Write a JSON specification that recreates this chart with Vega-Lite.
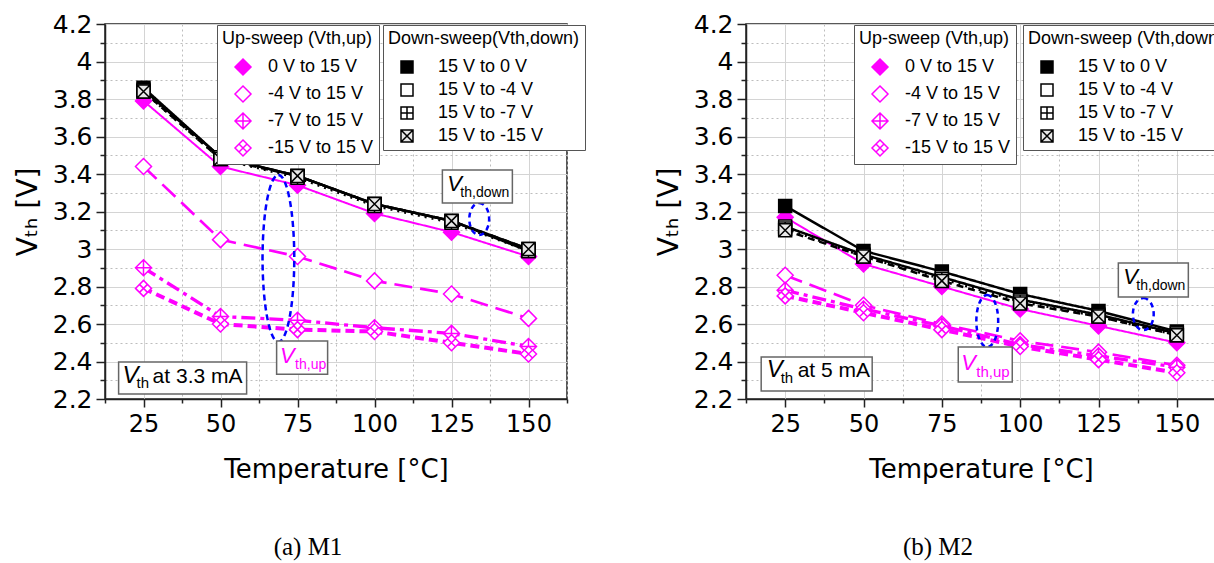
{
  "$schema": "https://vega.github.io/schema/vega-lite/v6.json",
  "background": "white",
  "padding": {"left": 13, "top": 11, "right": 0, "bottom": 0},
  "bounds": "flush",
  "spacing": 179,
  "config": {
    "view": {"stroke": "#222", "strokeWidth": 1.5},
    "font": "Liberation Sans",
    "axis": {
      "labelFont": "DejaVu Sans", "titleFont": "DejaVu Sans", "titleFontWeight": "normal",
      "labelColor": "black", "titleColor": "black",
      "domainColor": "#222", "domainWidth": 1.5, "tickColor": "#222", "tickWidth": 1.5
    },
    "axisX": {"labelFontSize": 24, "titleFontSize": 26, "labelPadding": 5, "titlePadding": 20},
    "axisY": {"labelFontSize": 25, "titleFontSize": 28, "labelPadding": 4, "titlePadding": 10},
    "legend": {
      "padding": 5, "strokeColor": "#555", "fillColor": "white", "cornerRadius": 0,
      "titleFont": "Liberation Sans", "titleFontSize": 18, "titleFontWeight": "normal", "titleColor": "black",
      "labelFont": "Liberation Sans", "labelFontSize": 18, "labelColor": "black",
      "rowPadding": 5, "titlePadding": 10, "symbolStrokeWidth": 1.5, "labelLimit": 400, "titleLimit": 400
    },
    "title": {"font": "Liberation Serif", "fontSize": 25, "fontWeight": "normal", "color": "black", "orient": "bottom", "offset": 53, "anchor": "middle"}
  },
  "datasets": {
    "vth": [
      {"p":"M1","s":"up","k":"0 V to 15 V","T":25,"V":3.79},{"p":"M1","s":"up","k":"0 V to 15 V","T":50,"V":3.44},{"p":"M1","s":"up","k":"0 V to 15 V","T":75,"V":3.34},{"p":"M1","s":"up","k":"0 V to 15 V","T":100,"V":3.19},{"p":"M1","s":"up","k":"0 V to 15 V","T":125,"V":3.09},{"p":"M1","s":"up","k":"0 V to 15 V","T":150,"V":2.96},
      {"p":"M1","s":"up","k":"-4 V to 15 V","T":25,"V":3.44},{"p":"M1","s":"up","k":"-4 V to 15 V","T":50,"V":3.05},{"p":"M1","s":"up","k":"-4 V to 15 V","T":75,"V":2.96},{"p":"M1","s":"up","k":"-4 V to 15 V","T":100,"V":2.83},{"p":"M1","s":"up","k":"-4 V to 15 V","T":125,"V":2.76},{"p":"M1","s":"up","k":"-4 V to 15 V","T":150,"V":2.63},
      {"p":"M1","s":"up","k":"-7 V to 15 V","T":25,"V":2.90},{"p":"M1","s":"up","k":"-7 V to 15 V","T":50,"V":2.64},{"p":"M1","s":"up","k":"-7 V to 15 V","T":75,"V":2.62},{"p":"M1","s":"up","k":"-7 V to 15 V","T":100,"V":2.58},{"p":"M1","s":"up","k":"-7 V to 15 V","T":125,"V":2.55},{"p":"M1","s":"up","k":"-7 V to 15 V","T":150,"V":2.48},
      {"p":"M1","s":"up","k":"-15 V to 15 V","T":25,"V":2.79},{"p":"M1","s":"up","k":"-15 V to 15 V","T":50,"V":2.60},{"p":"M1","s":"up","k":"-15 V to 15 V","T":75,"V":2.57},{"p":"M1","s":"up","k":"-15 V to 15 V","T":100,"V":2.56},{"p":"M1","s":"up","k":"-15 V to 15 V","T":125,"V":2.50},{"p":"M1","s":"up","k":"-15 V to 15 V","T":150,"V":2.44},
      {"p":"M1","s":"down","k":"15 V to 0 V","T":25,"V":3.86},{"p":"M1","s":"down","k":"15 V to 0 V","T":50,"V":3.49},{"p":"M1","s":"down","k":"15 V to 0 V","T":75,"V":3.39},{"p":"M1","s":"down","k":"15 V to 0 V","T":100,"V":3.24},{"p":"M1","s":"down","k":"15 V to 0 V","T":125,"V":3.15},{"p":"M1","s":"down","k":"15 V to 0 V","T":150,"V":3.00},
      {"p":"M1","s":"down","k":"15 V to -4 V","T":25,"V":3.85},{"p":"M1","s":"down","k":"15 V to -4 V","T":50,"V":3.49},{"p":"M1","s":"down","k":"15 V to -4 V","T":75,"V":3.39},{"p":"M1","s":"down","k":"15 V to -4 V","T":100,"V":3.24},{"p":"M1","s":"down","k":"15 V to -4 V","T":125,"V":3.15},{"p":"M1","s":"down","k":"15 V to -4 V","T":150,"V":2.99},
      {"p":"M1","s":"down","k":"15 V to -7 V","T":25,"V":3.84},{"p":"M1","s":"down","k":"15 V to -7 V","T":50,"V":3.48},{"p":"M1","s":"down","k":"15 V to -7 V","T":75,"V":3.38},{"p":"M1","s":"down","k":"15 V to -7 V","T":100,"V":3.23},{"p":"M1","s":"down","k":"15 V to -7 V","T":125,"V":3.14},{"p":"M1","s":"down","k":"15 V to -7 V","T":150,"V":2.99},
      {"p":"M1","s":"down","k":"15 V to -15 V","T":25,"V":3.84},{"p":"M1","s":"down","k":"15 V to -15 V","T":50,"V":3.48},{"p":"M1","s":"down","k":"15 V to -15 V","T":75,"V":3.39},{"p":"M1","s":"down","k":"15 V to -15 V","T":100,"V":3.24},{"p":"M1","s":"down","k":"15 V to -15 V","T":125,"V":3.15},{"p":"M1","s":"down","k":"15 V to -15 V","T":150,"V":3.00},
      {"p":"M2","s":"up","k":"0 V to 15 V","T":25,"V":3.17},{"p":"M2","s":"up","k":"0 V to 15 V","T":50,"V":2.92},{"p":"M2","s":"up","k":"0 V to 15 V","T":75,"V":2.80},{"p":"M2","s":"up","k":"0 V to 15 V","T":100,"V":2.68},{"p":"M2","s":"up","k":"0 V to 15 V","T":125,"V":2.59},{"p":"M2","s":"up","k":"0 V to 15 V","T":150,"V":2.50},
      {"p":"M2","s":"up","k":"-4 V to 15 V","T":25,"V":2.86},{"p":"M2","s":"up","k":"-4 V to 15 V","T":50,"V":2.70},{"p":"M2","s":"up","k":"-4 V to 15 V","T":75,"V":2.60},{"p":"M2","s":"up","k":"-4 V to 15 V","T":100,"V":2.51},{"p":"M2","s":"up","k":"-4 V to 15 V","T":125,"V":2.45},{"p":"M2","s":"up","k":"-4 V to 15 V","T":150,"V":2.38},
      {"p":"M2","s":"up","k":"-7 V to 15 V","T":25,"V":2.78},{"p":"M2","s":"up","k":"-7 V to 15 V","T":50,"V":2.68},{"p":"M2","s":"up","k":"-7 V to 15 V","T":75,"V":2.59},{"p":"M2","s":"up","k":"-7 V to 15 V","T":100,"V":2.49},{"p":"M2","s":"up","k":"-7 V to 15 V","T":125,"V":2.43},{"p":"M2","s":"up","k":"-7 V to 15 V","T":150,"V":2.37},
      {"p":"M2","s":"up","k":"-15 V to 15 V","T":25,"V":2.75},{"p":"M2","s":"up","k":"-15 V to 15 V","T":50,"V":2.66},{"p":"M2","s":"up","k":"-15 V to 15 V","T":75,"V":2.57},{"p":"M2","s":"up","k":"-15 V to 15 V","T":100,"V":2.48},{"p":"M2","s":"up","k":"-15 V to 15 V","T":125,"V":2.41},{"p":"M2","s":"up","k":"-15 V to 15 V","T":150,"V":2.34},
      {"p":"M2","s":"down","k":"15 V to 0 V","T":25,"V":3.23},{"p":"M2","s":"down","k":"15 V to 0 V","T":50,"V":2.99},{"p":"M2","s":"down","k":"15 V to 0 V","T":75,"V":2.88},{"p":"M2","s":"down","k":"15 V to 0 V","T":100,"V":2.76},{"p":"M2","s":"down","k":"15 V to 0 V","T":125,"V":2.67},{"p":"M2","s":"down","k":"15 V to 0 V","T":150,"V":2.56},
      {"p":"M2","s":"down","k":"15 V to -4 V","T":25,"V":3.12},{"p":"M2","s":"down","k":"15 V to -4 V","T":50,"V":2.97},{"p":"M2","s":"down","k":"15 V to -4 V","T":75,"V":2.85},{"p":"M2","s":"down","k":"15 V to -4 V","T":100,"V":2.73},{"p":"M2","s":"down","k":"15 V to -4 V","T":125,"V":2.65},{"p":"M2","s":"down","k":"15 V to -4 V","T":150,"V":2.55},
      {"p":"M2","s":"down","k":"15 V to -7 V","T":25,"V":3.11},{"p":"M2","s":"down","k":"15 V to -7 V","T":50,"V":2.96},{"p":"M2","s":"down","k":"15 V to -7 V","T":75,"V":2.84},{"p":"M2","s":"down","k":"15 V to -7 V","T":100,"V":2.72},{"p":"M2","s":"down","k":"15 V to -7 V","T":125,"V":2.64},{"p":"M2","s":"down","k":"15 V to -7 V","T":150,"V":2.54},
      {"p":"M2","s":"down","k":"15 V to -15 V","T":25,"V":3.10},{"p":"M2","s":"down","k":"15 V to -15 V","T":50,"V":2.96},{"p":"M2","s":"down","k":"15 V to -15 V","T":75,"V":2.83},{"p":"M2","s":"down","k":"15 V to -15 V","T":100,"V":2.71},{"p":"M2","s":"down","k":"15 V to -15 V","T":125,"V":2.64},{"p":"M2","s":"down","k":"15 V to -15 V","T":150,"V":2.54}
    ],
    "anchor": [{"a": 1}]
  },
  "hconcat": [
    {
      "width": 462, "height": 375,
      "title": {"text": "(a) M1", "orient": "bottom", "dx": -28},
      "layer": [
        {"data": {"name": "vth"}, "transform": [{"filter": "datum.p == 'M1' && datum.s == 'up'"}], "mark": {"type": "line", "stroke": "#ff00ff"},
          "encoding": {
            "x": {"field": "T", "type": "quantitative", "scale": {"domain": [12.5, 162.5], "nice": false, "zero": false}, "axis": {"title": "Temperature [°C]", "values": [12.5,25,37.5,50,62.5,75,87.5,100,112.5,125,137.5,150,162.5], "labelExpr": "datum.value % 25 == 0 ? datum.label : ''", "tickSize": {"condition": {"test": "datum.value % 25 == 0", "value": 8}, "value": 4}, "gridDash": {"condition": {"test": "datum.value % 25 == 0", "value": []}, "value": [2, 3]}, "gridColor": {"condition": {"test": "datum.value % 25 == 0", "value": "#d4d4d4"}, "value": "#bdbdbd"}}},
            "y": {"field": "V", "type": "quantitative", "scale": {"domain": [2.2, 4.2], "nice": false, "zero": false}, "axis": {"title": "Vₜₕ [V]", "values": [2.2,2.3,2.4,2.5,2.6,2.7,2.8,2.9,3.0,3.1,3.2,3.3,3.4,3.5,3.6,3.7,3.8,3.9,4.0,4.1,4.2], "labelExpr": "round(datum.value * 10) % 2 == 0 ? format(datum.value, '.1~f') : ''", "tickSize": {"condition": {"test": "round(datum.value * 10) % 2 == 0", "value": 9}, "value": 5}, "gridDash": {"condition": {"test": "round(datum.value * 10) % 2 == 0", "value": []}, "value": [2, 3]}, "gridColor": {"condition": {"test": "round(datum.value * 10) % 2 == 0", "value": "#d4d4d4"}, "value": "#bdbdbd"}}},
            "strokeDash": {"field": "k", "scale": {"domain": ["0 V to 15 V","-4 V to 15 V","-7 V to 15 V","-15 V to 15 V"], "range": [[1,0],[18,8],[14,5,4,5],[9,5]]}, "legend": null},
            "strokeWidth": {"field": "k", "scale": {"domain": ["0 V to 15 V","-4 V to 15 V","-7 V to 15 V","-15 V to 15 V"], "range": [2,4,4,4]}, "legend": null}}},
        {"data": {"name": "vth"}, "transform": [{"filter": "datum.p == 'M1' && datum.s == 'down'"}], "mark": {"type": "line", "stroke": "black"},
          "encoding": {
            "x": {"field": "T", "type": "quantitative", "scale": {"domain": [12.5, 162.5], "nice": false, "zero": false}, "axis": {"title": "Temperature [°C]", "values": [12.5,25,37.5,50,62.5,75,87.5,100,112.5,125,137.5,150,162.5], "labelExpr": "datum.value % 25 == 0 ? datum.label : ''", "tickSize": {"condition": {"test": "datum.value % 25 == 0", "value": 8}, "value": 4}, "gridDash": {"condition": {"test": "datum.value % 25 == 0", "value": []}, "value": [2, 3]}, "gridColor": {"condition": {"test": "datum.value % 25 == 0", "value": "#d4d4d4"}, "value": "#bdbdbd"}}},
            "y": {"field": "V", "type": "quantitative", "scale": {"domain": [2.2, 4.2], "nice": false, "zero": false}, "axis": {"title": "Vₜₕ [V]", "values": [2.2,2.3,2.4,2.5,2.6,2.7,2.8,2.9,3.0,3.1,3.2,3.3,3.4,3.5,3.6,3.7,3.8,3.9,4.0,4.1,4.2], "labelExpr": "round(datum.value * 10) % 2 == 0 ? format(datum.value, '.1~f') : ''", "tickSize": {"condition": {"test": "round(datum.value * 10) % 2 == 0", "value": 9}, "value": 5}, "gridDash": {"condition": {"test": "round(datum.value * 10) % 2 == 0", "value": []}, "value": [2, 3]}, "gridColor": {"condition": {"test": "round(datum.value * 10) % 2 == 0", "value": "#d4d4d4"}, "value": "#bdbdbd"}}},
            "strokeDash": {"field": "k", "scale": {"domain": ["15 V to 0 V","15 V to -4 V","15 V to -7 V","15 V to -15 V"], "range": [[1,0],[1,0],[2,5],[7,5]]}, "legend": null},
            "strokeWidth": {"field": "k", "scale": {"domain": ["15 V to 0 V","15 V to -4 V","15 V to -7 V","15 V to -15 V"], "range": [2.5,2.5,2.5,2.5]}, "legend": null}}},
        {"data": {"name": "vth"}, "transform": [{"filter": "datum.p == 'M1' && datum.s == 'up'"}], "mark": {"type": "point", "filled": true, "size": 256, "strokeWidth": 1.5, "opacity": 1},
          "encoding": {
            "x": {"field": "T", "type": "quantitative", "scale": {"domain": [12.5, 162.5], "nice": false, "zero": false}, "axis": {"title": "Temperature [°C]", "values": [12.5,25,37.5,50,62.5,75,87.5,100,112.5,125,137.5,150,162.5], "labelExpr": "datum.value % 25 == 0 ? datum.label : ''", "tickSize": {"condition": {"test": "datum.value % 25 == 0", "value": 8}, "value": 4}, "gridDash": {"condition": {"test": "datum.value % 25 == 0", "value": []}, "value": [2, 3]}, "gridColor": {"condition": {"test": "datum.value % 25 == 0", "value": "#d4d4d4"}, "value": "#bdbdbd"}}},
            "y": {"field": "V", "type": "quantitative", "scale": {"domain": [2.2, 4.2], "nice": false, "zero": false}, "axis": {"title": "Vₜₕ [V]", "values": [2.2,2.3,2.4,2.5,2.6,2.7,2.8,2.9,3.0,3.1,3.2,3.3,3.4,3.5,3.6,3.7,3.8,3.9,4.0,4.1,4.2], "labelExpr": "round(datum.value * 10) % 2 == 0 ? format(datum.value, '.1~f') : ''", "tickSize": {"condition": {"test": "round(datum.value * 10) % 2 == 0", "value": 9}, "value": 5}, "gridDash": {"condition": {"test": "round(datum.value * 10) % 2 == 0", "value": []}, "value": [2, 3]}, "gridColor": {"condition": {"test": "round(datum.value * 10) % 2 == 0", "value": "#d4d4d4"}, "value": "#bdbdbd"}}},
            "shape": {"field": "k", "title": "Up-sweep (Vth,up)", "scale": {"domain": ["0 V to 15 V","-4 V to 15 V","-7 V to 15 V","-15 V to 15 V"], "range": ["M0,-1L1,0L0,1L-1,0Z","M0,-1L1,0L0,1L-1,0Z","M0,-1L1,0L0,1L-1,0Z M0,-1L0,1 M-1,0L1,0","M0,-1L1,0L0,1L-1,0Z M-0.5,-0.5L0.5,0.5 M-0.5,0.5L0.5,-0.5"]},
              "legend": {"orient": "none", "legendX": 112, "legendY": 1, "symbolSize": 256, "symbolOffset": 12, "labelOffset": 16}},
            "fill": {"field": "k", "title": "Up-sweep (Vth,up)", "scale": {"domain": ["0 V to 15 V","-4 V to 15 V","-7 V to 15 V","-15 V to 15 V"], "range": ["#ff00ff","white","white","white"]},
              "legend": {"orient": "none", "legendX": 112, "legendY": 1, "symbolSize": 256, "symbolOffset": 12, "labelOffset": 16}},
            "stroke": {"field": "k", "title": "Up-sweep (Vth,up)", "scale": {"domain": ["0 V to 15 V","-4 V to 15 V","-7 V to 15 V","-15 V to 15 V"], "range": ["#ff00ff","#ff00ff","#ff00ff","#ff00ff"]},
              "legend": {"orient": "none", "legendX": 112, "legendY": 1, "symbolSize": 256, "symbolOffset": 12, "labelOffset": 16}}}},
        {"data": {"name": "vth"}, "transform": [{"filter": "datum.p == 'M1' && datum.s == 'down'"}], "mark": {"type": "point", "filled": true, "size": 169, "strokeWidth": 1.5, "opacity": 1},
          "encoding": {
            "x": {"field": "T", "type": "quantitative", "scale": {"domain": [12.5, 162.5], "nice": false, "zero": false}, "axis": {"title": "Temperature [°C]", "values": [12.5,25,37.5,50,62.5,75,87.5,100,112.5,125,137.5,150,162.5], "labelExpr": "datum.value % 25 == 0 ? datum.label : ''", "tickSize": {"condition": {"test": "datum.value % 25 == 0", "value": 8}, "value": 4}, "gridDash": {"condition": {"test": "datum.value % 25 == 0", "value": []}, "value": [2, 3]}, "gridColor": {"condition": {"test": "datum.value % 25 == 0", "value": "#d4d4d4"}, "value": "#bdbdbd"}}},
            "y": {"field": "V", "type": "quantitative", "scale": {"domain": [2.2, 4.2], "nice": false, "zero": false}, "axis": {"title": "Vₜₕ [V]", "values": [2.2,2.3,2.4,2.5,2.6,2.7,2.8,2.9,3.0,3.1,3.2,3.3,3.4,3.5,3.6,3.7,3.8,3.9,4.0,4.1,4.2], "labelExpr": "round(datum.value * 10) % 2 == 0 ? format(datum.value, '.1~f') : ''", "tickSize": {"condition": {"test": "round(datum.value * 10) % 2 == 0", "value": 9}, "value": 5}, "gridDash": {"condition": {"test": "round(datum.value * 10) % 2 == 0", "value": []}, "value": [2, 3]}, "gridColor": {"condition": {"test": "round(datum.value * 10) % 2 == 0", "value": "#d4d4d4"}, "value": "#bdbdbd"}}},
            "shape": {"field": "k", "title": "Down-sweep(Vth,down)", "scale": {"domain": ["15 V to 0 V","15 V to -4 V","15 V to -7 V","15 V to -15 V"], "range": ["M-1,-1L1,-1L1,1L-1,1Z","M-1,-1L1,-1L1,1L-1,1Z","M-1,-1L1,-1L1,1L-1,1Z M0,-1L0,1 M-1,0L1,0","M-1,-1L1,-1L1,1L-1,1Z M-1,-1L1,1 M-1,1L1,-1"]},
              "legend": {"orient": "none", "legendX": 278, "legendY": 1, "symbolSize": 144, "symbolOffset": 10, "labelOffset": 22}},
            "fill": {"field": "k", "title": "Down-sweep(Vth,down)", "scale": {"domain": ["15 V to 0 V","15 V to -4 V","15 V to -7 V","15 V to -15 V"], "range": ["black","white","white","#e8e8e8"]},
              "legend": {"orient": "none", "legendX": 278, "legendY": 1, "symbolSize": 144, "symbolOffset": 10, "labelOffset": 22}},
            "stroke": {"field": "k", "title": "Down-sweep(Vth,down)", "scale": {"domain": ["15 V to 0 V","15 V to -4 V","15 V to -7 V","15 V to -15 V"], "range": ["black","black","black","black"]},
              "legend": {"orient": "none", "legendX": 278, "legendY": 1, "symbolSize": 144, "symbolOffset": 10, "labelOffset": 22}}}},
        {"data": {"name": "anchor"}, "mark": {"type": "point", "shape": "M0,-1C0.105,-1,0.19,-0.552,0.19,0C0.19,0.552,0.105,1,0,1C-0.105,1,-0.19,0.552,-0.19,0C-0.19,-0.552,-0.105,-1,0,-1Z", "size": 27889, "filled": false, "stroke": "#0000ff", "strokeWidth": 2.5, "strokeDash": [6, 4], "opacity": 1},
          "encoding": {
            "x": {"datum": 68.8, "type": "quantitative", "scale": {"domain": [12.5, 162.5], "nice": false, "zero": false}, "axis": {"title": "Temperature [°C]", "values": [12.5,25,37.5,50,62.5,75,87.5,100,112.5,125,137.5,150,162.5], "labelExpr": "datum.value % 25 == 0 ? datum.label : ''", "tickSize": {"condition": {"test": "datum.value % 25 == 0", "value": 8}, "value": 4}, "gridDash": {"condition": {"test": "datum.value % 25 == 0", "value": []}, "value": [2, 3]}, "gridColor": {"condition": {"test": "datum.value % 25 == 0", "value": "#d4d4d4"}, "value": "#bdbdbd"}}},
            "y": {"datum": 2.95, "type": "quantitative", "scale": {"domain": [2.2, 4.2], "nice": false, "zero": false}, "axis": {"title": "Vₜₕ [V]", "values": [2.2,2.3,2.4,2.5,2.6,2.7,2.8,2.9,3.0,3.1,3.2,3.3,3.4,3.5,3.6,3.7,3.8,3.9,4.0,4.1,4.2], "labelExpr": "round(datum.value * 10) % 2 == 0 ? format(datum.value, '.1~f') : ''", "tickSize": {"condition": {"test": "round(datum.value * 10) % 2 == 0", "value": 9}, "value": 5}, "gridDash": {"condition": {"test": "round(datum.value * 10) % 2 == 0", "value": []}, "value": [2, 3]}, "gridColor": {"condition": {"test": "round(datum.value * 10) % 2 == 0", "value": "#d4d4d4"}, "value": "#bdbdbd"}}}}},
        {"data": {"name": "anchor"}, "mark": {"type": "point", "shape": "M0,-1C0.342,-1,0.62,-0.552,0.62,0C0.62,0.552,0.342,1,0,1C-0.342,1,-0.62,0.552,-0.62,0C-0.62,-0.552,-0.342,-1,0,-1Z", "size": 1024, "filled": false, "stroke": "#0000ff", "strokeWidth": 2.5, "strokeDash": [5, 4], "opacity": 1},
          "encoding": {
            "x": {"datum": 134, "type": "quantitative", "scale": {"domain": [12.5, 162.5], "nice": false, "zero": false}, "axis": {"title": "Temperature [°C]", "values": [12.5,25,37.5,50,62.5,75,87.5,100,112.5,125,137.5,150,162.5], "labelExpr": "datum.value % 25 == 0 ? datum.label : ''", "tickSize": {"condition": {"test": "datum.value % 25 == 0", "value": 8}, "value": 4}, "gridDash": {"condition": {"test": "datum.value % 25 == 0", "value": []}, "value": [2, 3]}, "gridColor": {"condition": {"test": "datum.value % 25 == 0", "value": "#d4d4d4"}, "value": "#bdbdbd"}}},
            "y": {"datum": 3.16, "type": "quantitative", "scale": {"domain": [2.2, 4.2], "nice": false, "zero": false}, "axis": {"title": "Vₜₕ [V]", "values": [2.2,2.3,2.4,2.5,2.6,2.7,2.8,2.9,3.0,3.1,3.2,3.3,3.4,3.5,3.6,3.7,3.8,3.9,4.0,4.1,4.2], "labelExpr": "round(datum.value * 10) % 2 == 0 ? format(datum.value, '.1~f') : ''", "tickSize": {"condition": {"test": "round(datum.value * 10) % 2 == 0", "value": 9}, "value": 5}, "gridDash": {"condition": {"test": "round(datum.value * 10) % 2 == 0", "value": []}, "value": [2, 3]}, "gridColor": {"condition": {"test": "round(datum.value * 10) % 2 == 0", "value": "#d4d4d4"}, "value": "#bdbdbd"}}}}},
        {"data": {"name": "anchor"}, "mark": {"type": "point", "shape": "M-1,-0.25L1,-0.25L1,0.25L-1,0.25Z", "size": 16384, "filled": true, "fill": "white", "stroke": "#666", "strokeWidth": 1.5, "opacity": 1},
          "encoding": {
            "x": {"datum": 37.7, "type": "quantitative", "scale": {"domain": [12.5, 162.5], "nice": false, "zero": false}, "axis": {"title": "Temperature [°C]", "values": [12.5,25,37.5,50,62.5,75,87.5,100,112.5,125,137.5,150,162.5], "labelExpr": "datum.value % 25 == 0 ? datum.label : ''", "tickSize": {"condition": {"test": "datum.value % 25 == 0", "value": 8}, "value": 4}, "gridDash": {"condition": {"test": "datum.value % 25 == 0", "value": []}, "value": [2, 3]}, "gridColor": {"condition": {"test": "datum.value % 25 == 0", "value": "#d4d4d4"}, "value": "#bdbdbd"}}},
            "y": {"datum": 2.312, "type": "quantitative", "scale": {"domain": [2.2, 4.2], "nice": false, "zero": false}, "axis": {"title": "Vₜₕ [V]", "values": [2.2,2.3,2.4,2.5,2.6,2.7,2.8,2.9,3.0,3.1,3.2,3.3,3.4,3.5,3.6,3.7,3.8,3.9,4.0,4.1,4.2], "labelExpr": "round(datum.value * 10) % 2 == 0 ? format(datum.value, '.1~f') : ''", "tickSize": {"condition": {"test": "round(datum.value * 10) % 2 == 0", "value": 9}, "value": 5}, "gridDash": {"condition": {"test": "round(datum.value * 10) % 2 == 0", "value": []}, "value": [2, 3]}, "gridColor": {"condition": {"test": "round(datum.value * 10) % 2 == 0", "value": "#d4d4d4"}, "value": "#bdbdbd"}}}}},
        {"data": {"name": "anchor"}, "mark": {"type": "text", "text": "V", "fontStyle": "italic", "fontSize": 24, "align": "left", "baseline": "alphabetic", "dx": -60, "dy": 5, "color": "black"},
          "encoding": {
            "x": {"datum": 37.7, "type": "quantitative", "scale": {"domain": [12.5, 162.5], "nice": false, "zero": false}, "axis": {"title": "Temperature [°C]", "values": [12.5,25,37.5,50,62.5,75,87.5,100,112.5,125,137.5,150,162.5], "labelExpr": "datum.value % 25 == 0 ? datum.label : ''", "tickSize": {"condition": {"test": "datum.value % 25 == 0", "value": 8}, "value": 4}, "gridDash": {"condition": {"test": "datum.value % 25 == 0", "value": []}, "value": [2, 3]}, "gridColor": {"condition": {"test": "datum.value % 25 == 0", "value": "#d4d4d4"}, "value": "#bdbdbd"}}},
            "y": {"datum": 2.312, "type": "quantitative", "scale": {"domain": [2.2, 4.2], "nice": false, "zero": false}, "axis": {"title": "Vₜₕ [V]", "values": [2.2,2.3,2.4,2.5,2.6,2.7,2.8,2.9,3.0,3.1,3.2,3.3,3.4,3.5,3.6,3.7,3.8,3.9,4.0,4.1,4.2], "labelExpr": "round(datum.value * 10) % 2 == 0 ? format(datum.value, '.1~f') : ''", "tickSize": {"condition": {"test": "round(datum.value * 10) % 2 == 0", "value": 9}, "value": 5}, "gridDash": {"condition": {"test": "round(datum.value * 10) % 2 == 0", "value": []}, "value": [2, 3]}, "gridColor": {"condition": {"test": "round(datum.value * 10) % 2 == 0", "value": "#d4d4d4"}, "value": "#bdbdbd"}}}}},
        {"data": {"name": "anchor"}, "mark": {"type": "text", "text": "th", "fontSize": 15, "align": "left", "baseline": "alphabetic", "dx": -46, "dy": 10, "color": "black"},
          "encoding": {
            "x": {"datum": 37.7, "type": "quantitative", "scale": {"domain": [12.5, 162.5], "nice": false, "zero": false}, "axis": {"title": "Temperature [°C]", "values": [12.5,25,37.5,50,62.5,75,87.5,100,112.5,125,137.5,150,162.5], "labelExpr": "datum.value % 25 == 0 ? datum.label : ''", "tickSize": {"condition": {"test": "datum.value % 25 == 0", "value": 8}, "value": 4}, "gridDash": {"condition": {"test": "datum.value % 25 == 0", "value": []}, "value": [2, 3]}, "gridColor": {"condition": {"test": "datum.value % 25 == 0", "value": "#d4d4d4"}, "value": "#bdbdbd"}}},
            "y": {"datum": 2.312, "type": "quantitative", "scale": {"domain": [2.2, 4.2], "nice": false, "zero": false}, "axis": {"title": "Vₜₕ [V]", "values": [2.2,2.3,2.4,2.5,2.6,2.7,2.8,2.9,3.0,3.1,3.2,3.3,3.4,3.5,3.6,3.7,3.8,3.9,4.0,4.1,4.2], "labelExpr": "round(datum.value * 10) % 2 == 0 ? format(datum.value, '.1~f') : ''", "tickSize": {"condition": {"test": "round(datum.value * 10) % 2 == 0", "value": 9}, "value": 5}, "gridDash": {"condition": {"test": "round(datum.value * 10) % 2 == 0", "value": []}, "value": [2, 3]}, "gridColor": {"condition": {"test": "round(datum.value * 10) % 2 == 0", "value": "#d4d4d4"}, "value": "#bdbdbd"}}}}},
        {"data": {"name": "anchor"}, "mark": {"type": "text", "text": "at 3.3 mA", "fontSize": 21, "align": "left", "baseline": "alphabetic", "dx": -30, "dy": 5, "color": "black"},
          "encoding": {
            "x": {"datum": 37.7, "type": "quantitative", "scale": {"domain": [12.5, 162.5], "nice": false, "zero": false}, "axis": {"title": "Temperature [°C]", "values": [12.5,25,37.5,50,62.5,75,87.5,100,112.5,125,137.5,150,162.5], "labelExpr": "datum.value % 25 == 0 ? datum.label : ''", "tickSize": {"condition": {"test": "datum.value % 25 == 0", "value": 8}, "value": 4}, "gridDash": {"condition": {"test": "datum.value % 25 == 0", "value": []}, "value": [2, 3]}, "gridColor": {"condition": {"test": "datum.value % 25 == 0", "value": "#d4d4d4"}, "value": "#bdbdbd"}}},
            "y": {"datum": 2.312, "type": "quantitative", "scale": {"domain": [2.2, 4.2], "nice": false, "zero": false}, "axis": {"title": "Vₜₕ [V]", "values": [2.2,2.3,2.4,2.5,2.6,2.7,2.8,2.9,3.0,3.1,3.2,3.3,3.4,3.5,3.6,3.7,3.8,3.9,4.0,4.1,4.2], "labelExpr": "round(datum.value * 10) % 2 == 0 ? format(datum.value, '.1~f') : ''", "tickSize": {"condition": {"test": "round(datum.value * 10) % 2 == 0", "value": 9}, "value": 5}, "gridDash": {"condition": {"test": "round(datum.value * 10) % 2 == 0", "value": []}, "value": [2, 3]}, "gridColor": {"condition": {"test": "round(datum.value * 10) % 2 == 0", "value": "#d4d4d4"}, "value": "#bdbdbd"}}}}},
        {"data": {"name": "anchor"}, "mark": {"type": "point", "shape": "M-1,-0.65L1,-0.65L1,0.65L-1,0.65Z", "size": 2601, "filled": true, "fill": "white", "stroke": "#666", "strokeWidth": 1.5, "opacity": 1},
          "encoding": {
            "x": {"datum": 76.5, "type": "quantitative", "scale": {"domain": [12.5, 162.5], "nice": false, "zero": false}, "axis": {"title": "Temperature [°C]", "values": [12.5,25,37.5,50,62.5,75,87.5,100,112.5,125,137.5,150,162.5], "labelExpr": "datum.value % 25 == 0 ? datum.label : ''", "tickSize": {"condition": {"test": "datum.value % 25 == 0", "value": 8}, "value": 4}, "gridDash": {"condition": {"test": "datum.value % 25 == 0", "value": []}, "value": [2, 3]}, "gridColor": {"condition": {"test": "datum.value % 25 == 0", "value": "#d4d4d4"}, "value": "#bdbdbd"}}},
            "y": {"datum": 2.421, "type": "quantitative", "scale": {"domain": [2.2, 4.2], "nice": false, "zero": false}, "axis": {"title": "Vₜₕ [V]", "values": [2.2,2.3,2.4,2.5,2.6,2.7,2.8,2.9,3.0,3.1,3.2,3.3,3.4,3.5,3.6,3.7,3.8,3.9,4.0,4.1,4.2], "labelExpr": "round(datum.value * 10) % 2 == 0 ? format(datum.value, '.1~f') : ''", "tickSize": {"condition": {"test": "round(datum.value * 10) % 2 == 0", "value": 9}, "value": 5}, "gridDash": {"condition": {"test": "round(datum.value * 10) % 2 == 0", "value": []}, "value": [2, 3]}, "gridColor": {"condition": {"test": "round(datum.value * 10) % 2 == 0", "value": "#d4d4d4"}, "value": "#bdbdbd"}}}}},
        {"data": {"name": "anchor"}, "mark": {"type": "text", "text": "V", "fontStyle": "italic", "fontSize": 22, "align": "left", "baseline": "alphabetic", "dx": -22, "dy": 5, "color": "#ff00ff"},
          "encoding": {
            "x": {"datum": 76.5, "type": "quantitative", "scale": {"domain": [12.5, 162.5], "nice": false, "zero": false}, "axis": {"title": "Temperature [°C]", "values": [12.5,25,37.5,50,62.5,75,87.5,100,112.5,125,137.5,150,162.5], "labelExpr": "datum.value % 25 == 0 ? datum.label : ''", "tickSize": {"condition": {"test": "datum.value % 25 == 0", "value": 8}, "value": 4}, "gridDash": {"condition": {"test": "datum.value % 25 == 0", "value": []}, "value": [2, 3]}, "gridColor": {"condition": {"test": "datum.value % 25 == 0", "value": "#d4d4d4"}, "value": "#bdbdbd"}}},
            "y": {"datum": 2.421, "type": "quantitative", "scale": {"domain": [2.2, 4.2], "nice": false, "zero": false}, "axis": {"title": "Vₜₕ [V]", "values": [2.2,2.3,2.4,2.5,2.6,2.7,2.8,2.9,3.0,3.1,3.2,3.3,3.4,3.5,3.6,3.7,3.8,3.9,4.0,4.1,4.2], "labelExpr": "round(datum.value * 10) % 2 == 0 ? format(datum.value, '.1~f') : ''", "tickSize": {"condition": {"test": "round(datum.value * 10) % 2 == 0", "value": 9}, "value": 5}, "gridDash": {"condition": {"test": "round(datum.value * 10) % 2 == 0", "value": []}, "value": [2, 3]}, "gridColor": {"condition": {"test": "round(datum.value * 10) % 2 == 0", "value": "#d4d4d4"}, "value": "#bdbdbd"}}}}},
        {"data": {"name": "anchor"}, "mark": {"type": "text", "text": "th,up", "fontSize": 14, "align": "left", "baseline": "alphabetic", "dx": -7, "dy": 11, "color": "#ff00ff"},
          "encoding": {
            "x": {"datum": 76.5, "type": "quantitative", "scale": {"domain": [12.5, 162.5], "nice": false, "zero": false}, "axis": {"title": "Temperature [°C]", "values": [12.5,25,37.5,50,62.5,75,87.5,100,112.5,125,137.5,150,162.5], "labelExpr": "datum.value % 25 == 0 ? datum.label : ''", "tickSize": {"condition": {"test": "datum.value % 25 == 0", "value": 8}, "value": 4}, "gridDash": {"condition": {"test": "datum.value % 25 == 0", "value": []}, "value": [2, 3]}, "gridColor": {"condition": {"test": "datum.value % 25 == 0", "value": "#d4d4d4"}, "value": "#bdbdbd"}}},
            "y": {"datum": 2.421, "type": "quantitative", "scale": {"domain": [2.2, 4.2], "nice": false, "zero": false}, "axis": {"title": "Vₜₕ [V]", "values": [2.2,2.3,2.4,2.5,2.6,2.7,2.8,2.9,3.0,3.1,3.2,3.3,3.4,3.5,3.6,3.7,3.8,3.9,4.0,4.1,4.2], "labelExpr": "round(datum.value * 10) % 2 == 0 ? format(datum.value, '.1~f') : ''", "tickSize": {"condition": {"test": "round(datum.value * 10) % 2 == 0", "value": 9}, "value": 5}, "gridDash": {"condition": {"test": "round(datum.value * 10) % 2 == 0", "value": []}, "value": [2, 3]}, "gridColor": {"condition": {"test": "round(datum.value * 10) % 2 == 0", "value": "#d4d4d4"}, "value": "#bdbdbd"}}}}},
        {"data": {"name": "anchor"}, "mark": {"type": "point", "shape": "M-1,-0.47L1,-0.47L1,0.47L-1,0.47Z", "size": 4900, "filled": true, "fill": "white", "stroke": "#666", "strokeWidth": 1.5, "opacity": 1},
          "encoding": {
            "x": {"datum": 133.4, "type": "quantitative", "scale": {"domain": [12.5, 162.5], "nice": false, "zero": false}, "axis": {"title": "Temperature [°C]", "values": [12.5,25,37.5,50,62.5,75,87.5,100,112.5,125,137.5,150,162.5], "labelExpr": "datum.value % 25 == 0 ? datum.label : ''", "tickSize": {"condition": {"test": "datum.value % 25 == 0", "value": 8}, "value": 4}, "gridDash": {"condition": {"test": "datum.value % 25 == 0", "value": []}, "value": [2, 3]}, "gridColor": {"condition": {"test": "datum.value % 25 == 0", "value": "#d4d4d4"}, "value": "#bdbdbd"}}},
            "y": {"datum": 3.333, "type": "quantitative", "scale": {"domain": [2.2, 4.2], "nice": false, "zero": false}, "axis": {"title": "Vₜₕ [V]", "values": [2.2,2.3,2.4,2.5,2.6,2.7,2.8,2.9,3.0,3.1,3.2,3.3,3.4,3.5,3.6,3.7,3.8,3.9,4.0,4.1,4.2], "labelExpr": "round(datum.value * 10) % 2 == 0 ? format(datum.value, '.1~f') : ''", "tickSize": {"condition": {"test": "round(datum.value * 10) % 2 == 0", "value": 9}, "value": 5}, "gridDash": {"condition": {"test": "round(datum.value * 10) % 2 == 0", "value": []}, "value": [2, 3]}, "gridColor": {"condition": {"test": "round(datum.value * 10) % 2 == 0", "value": "#d4d4d4"}, "value": "#bdbdbd"}}}}},
        {"data": {"name": "anchor"}, "mark": {"type": "text", "text": "V", "fontStyle": "italic", "fontSize": 22, "align": "left", "baseline": "alphabetic", "dx": -30, "dy": 4, "color": "black"},
          "encoding": {
            "x": {"datum": 133.4, "type": "quantitative", "scale": {"domain": [12.5, 162.5], "nice": false, "zero": false}, "axis": {"title": "Temperature [°C]", "values": [12.5,25,37.5,50,62.5,75,87.5,100,112.5,125,137.5,150,162.5], "labelExpr": "datum.value % 25 == 0 ? datum.label : ''", "tickSize": {"condition": {"test": "datum.value % 25 == 0", "value": 8}, "value": 4}, "gridDash": {"condition": {"test": "datum.value % 25 == 0", "value": []}, "value": [2, 3]}, "gridColor": {"condition": {"test": "datum.value % 25 == 0", "value": "#d4d4d4"}, "value": "#bdbdbd"}}},
            "y": {"datum": 3.333, "type": "quantitative", "scale": {"domain": [2.2, 4.2], "nice": false, "zero": false}, "axis": {"title": "Vₜₕ [V]", "values": [2.2,2.3,2.4,2.5,2.6,2.7,2.8,2.9,3.0,3.1,3.2,3.3,3.4,3.5,3.6,3.7,3.8,3.9,4.0,4.1,4.2], "labelExpr": "round(datum.value * 10) % 2 == 0 ? format(datum.value, '.1~f') : ''", "tickSize": {"condition": {"test": "round(datum.value * 10) % 2 == 0", "value": 9}, "value": 5}, "gridDash": {"condition": {"test": "round(datum.value * 10) % 2 == 0", "value": []}, "value": [2, 3]}, "gridColor": {"condition": {"test": "round(datum.value * 10) % 2 == 0", "value": "#d4d4d4"}, "value": "#bdbdbd"}}}}},
        {"data": {"name": "anchor"}, "mark": {"type": "text", "text": "th,down", "fontSize": 14, "align": "left", "baseline": "alphabetic", "dx": -17, "dy": 10, "color": "black"},
          "encoding": {
            "x": {"datum": 133.4, "type": "quantitative", "scale": {"domain": [12.5, 162.5], "nice": false, "zero": false}, "axis": {"title": "Temperature [°C]", "values": [12.5,25,37.5,50,62.5,75,87.5,100,112.5,125,137.5,150,162.5], "labelExpr": "datum.value % 25 == 0 ? datum.label : ''", "tickSize": {"condition": {"test": "datum.value % 25 == 0", "value": 8}, "value": 4}, "gridDash": {"condition": {"test": "datum.value % 25 == 0", "value": []}, "value": [2, 3]}, "gridColor": {"condition": {"test": "datum.value % 25 == 0", "value": "#d4d4d4"}, "value": "#bdbdbd"}}},
            "y": {"datum": 3.333, "type": "quantitative", "scale": {"domain": [2.2, 4.2], "nice": false, "zero": false}, "axis": {"title": "Vₜₕ [V]", "values": [2.2,2.3,2.4,2.5,2.6,2.7,2.8,2.9,3.0,3.1,3.2,3.3,3.4,3.5,3.6,3.7,3.8,3.9,4.0,4.1,4.2], "labelExpr": "round(datum.value * 10) % 2 == 0 ? format(datum.value, '.1~f') : ''", "tickSize": {"condition": {"test": "round(datum.value * 10) % 2 == 0", "value": 9}, "value": 5}, "gridDash": {"condition": {"test": "round(datum.value * 10) % 2 == 0", "value": []}, "value": [2, 3]}, "gridColor": {"condition": {"test": "round(datum.value * 10) % 2 == 0", "value": "#d4d4d4"}, "value": "#bdbdbd"}}}}}
      ],
      "resolve": {
        "scale": {"strokeDash": "independent", "strokeWidth": "independent", "shape": "independent", "fill": "independent", "stroke": "independent"},
        "legend": {"shape": "independent", "fill": "independent", "stroke": "independent"}
      }
    },
    {
      "width": 470, "height": 375,
      "title": {"text": "(b) M2", "orient": "bottom", "dx": -43},
      "layer": [
        {"data": {"name": "vth"}, "transform": [{"filter": "datum.p == 'M2' && datum.s == 'up'"}], "mark": {"type": "line", "stroke": "#ff00ff"},
          "encoding": {
            "x": {"field": "T", "type": "quantitative", "scale": {"domain": [12.5, 162.5], "nice": false, "zero": false}, "axis": {"title": "Temperature [°C]", "values": [12.5,25,37.5,50,62.5,75,87.5,100,112.5,125,137.5,150,162.5], "labelExpr": "datum.value % 25 == 0 ? datum.label : ''", "tickSize": {"condition": {"test": "datum.value % 25 == 0", "value": 8}, "value": 4}, "gridDash": {"condition": {"test": "datum.value % 25 == 0", "value": []}, "value": [2, 3]}, "gridColor": {"condition": {"test": "datum.value % 25 == 0", "value": "#d4d4d4"}, "value": "#bdbdbd"}}},
            "y": {"field": "V", "type": "quantitative", "scale": {"domain": [2.2, 4.2], "nice": false, "zero": false}, "axis": {"title": "Vₜₕ [V]", "values": [2.2,2.3,2.4,2.5,2.6,2.7,2.8,2.9,3.0,3.1,3.2,3.3,3.4,3.5,3.6,3.7,3.8,3.9,4.0,4.1,4.2], "labelExpr": "round(datum.value * 10) % 2 == 0 ? format(datum.value, '.1~f') : ''", "tickSize": {"condition": {"test": "round(datum.value * 10) % 2 == 0", "value": 9}, "value": 5}, "gridDash": {"condition": {"test": "round(datum.value * 10) % 2 == 0", "value": []}, "value": [2, 3]}, "gridColor": {"condition": {"test": "round(datum.value * 10) % 2 == 0", "value": "#d4d4d4"}, "value": "#bdbdbd"}}},
            "strokeDash": {"field": "k", "scale": {"domain": ["0 V to 15 V","-4 V to 15 V","-7 V to 15 V","-15 V to 15 V"], "range": [[1,0],[18,8],[14,5,4,5],[9,5]]}, "legend": null},
            "strokeWidth": {"field": "k", "scale": {"domain": ["0 V to 15 V","-4 V to 15 V","-7 V to 15 V","-15 V to 15 V"], "range": [2,4,4,4]}, "legend": null}}},
        {"data": {"name": "vth"}, "transform": [{"filter": "datum.p == 'M2' && datum.s == 'down'"}], "mark": {"type": "line", "stroke": "black"},
          "encoding": {
            "x": {"field": "T", "type": "quantitative", "scale": {"domain": [12.5, 162.5], "nice": false, "zero": false}, "axis": {"title": "Temperature [°C]", "values": [12.5,25,37.5,50,62.5,75,87.5,100,112.5,125,137.5,150,162.5], "labelExpr": "datum.value % 25 == 0 ? datum.label : ''", "tickSize": {"condition": {"test": "datum.value % 25 == 0", "value": 8}, "value": 4}, "gridDash": {"condition": {"test": "datum.value % 25 == 0", "value": []}, "value": [2, 3]}, "gridColor": {"condition": {"test": "datum.value % 25 == 0", "value": "#d4d4d4"}, "value": "#bdbdbd"}}},
            "y": {"field": "V", "type": "quantitative", "scale": {"domain": [2.2, 4.2], "nice": false, "zero": false}, "axis": {"title": "Vₜₕ [V]", "values": [2.2,2.3,2.4,2.5,2.6,2.7,2.8,2.9,3.0,3.1,3.2,3.3,3.4,3.5,3.6,3.7,3.8,3.9,4.0,4.1,4.2], "labelExpr": "round(datum.value * 10) % 2 == 0 ? format(datum.value, '.1~f') : ''", "tickSize": {"condition": {"test": "round(datum.value * 10) % 2 == 0", "value": 9}, "value": 5}, "gridDash": {"condition": {"test": "round(datum.value * 10) % 2 == 0", "value": []}, "value": [2, 3]}, "gridColor": {"condition": {"test": "round(datum.value * 10) % 2 == 0", "value": "#d4d4d4"}, "value": "#bdbdbd"}}},
            "strokeDash": {"field": "k", "scale": {"domain": ["15 V to 0 V","15 V to -4 V","15 V to -7 V","15 V to -15 V"], "range": [[1,0],[1,0],[2,5],[7,5]]}, "legend": null},
            "strokeWidth": {"field": "k", "scale": {"domain": ["15 V to 0 V","15 V to -4 V","15 V to -7 V","15 V to -15 V"], "range": [2.5,2.5,2.5,2.5]}, "legend": null}}},
        {"data": {"name": "vth"}, "transform": [{"filter": "datum.p == 'M2' && datum.s == 'up'"}], "mark": {"type": "point", "filled": true, "size": 256, "strokeWidth": 1.5, "opacity": 1},
          "encoding": {
            "x": {"field": "T", "type": "quantitative", "scale": {"domain": [12.5, 162.5], "nice": false, "zero": false}, "axis": {"title": "Temperature [°C]", "values": [12.5,25,37.5,50,62.5,75,87.5,100,112.5,125,137.5,150,162.5], "labelExpr": "datum.value % 25 == 0 ? datum.label : ''", "tickSize": {"condition": {"test": "datum.value % 25 == 0", "value": 8}, "value": 4}, "gridDash": {"condition": {"test": "datum.value % 25 == 0", "value": []}, "value": [2, 3]}, "gridColor": {"condition": {"test": "datum.value % 25 == 0", "value": "#d4d4d4"}, "value": "#bdbdbd"}}},
            "y": {"field": "V", "type": "quantitative", "scale": {"domain": [2.2, 4.2], "nice": false, "zero": false}, "axis": {"title": "Vₜₕ [V]", "values": [2.2,2.3,2.4,2.5,2.6,2.7,2.8,2.9,3.0,3.1,3.2,3.3,3.4,3.5,3.6,3.7,3.8,3.9,4.0,4.1,4.2], "labelExpr": "round(datum.value * 10) % 2 == 0 ? format(datum.value, '.1~f') : ''", "tickSize": {"condition": {"test": "round(datum.value * 10) % 2 == 0", "value": 9}, "value": 5}, "gridDash": {"condition": {"test": "round(datum.value * 10) % 2 == 0", "value": []}, "value": [2, 3]}, "gridColor": {"condition": {"test": "round(datum.value * 10) % 2 == 0", "value": "#d4d4d4"}, "value": "#bdbdbd"}}},
            "shape": {"field": "k", "title": "Up-sweep (Vth,up)", "scale": {"domain": ["0 V to 15 V","-4 V to 15 V","-7 V to 15 V","-15 V to 15 V"], "range": ["M0,-1L1,0L0,1L-1,0Z","M0,-1L1,0L0,1L-1,0Z","M0,-1L1,0L0,1L-1,0Z M0,-1L0,1 M-1,0L1,0","M0,-1L1,0L0,1L-1,0Z M-0.5,-0.5L0.5,0.5 M-0.5,0.5L0.5,-0.5"]},
              "legend": {"orient": "none", "legendX": 108, "legendY": 1, "symbolSize": 256, "symbolOffset": 12, "labelOffset": 16}},
            "fill": {"field": "k", "title": "Up-sweep (Vth,up)", "scale": {"domain": ["0 V to 15 V","-4 V to 15 V","-7 V to 15 V","-15 V to 15 V"], "range": ["#ff00ff","white","white","white"]},
              "legend": {"orient": "none", "legendX": 108, "legendY": 1, "symbolSize": 256, "symbolOffset": 12, "labelOffset": 16}},
            "stroke": {"field": "k", "title": "Up-sweep (Vth,up)", "scale": {"domain": ["0 V to 15 V","-4 V to 15 V","-7 V to 15 V","-15 V to 15 V"], "range": ["#ff00ff","#ff00ff","#ff00ff","#ff00ff"]},
              "legend": {"orient": "none", "legendX": 108, "legendY": 1, "symbolSize": 256, "symbolOffset": 12, "labelOffset": 16}}}},
        {"data": {"name": "vth"}, "transform": [{"filter": "datum.p == 'M2' && datum.s == 'down'"}], "mark": {"type": "point", "filled": true, "size": 169, "strokeWidth": 1.5, "opacity": 1},
          "encoding": {
            "x": {"field": "T", "type": "quantitative", "scale": {"domain": [12.5, 162.5], "nice": false, "zero": false}, "axis": {"title": "Temperature [°C]", "values": [12.5,25,37.5,50,62.5,75,87.5,100,112.5,125,137.5,150,162.5], "labelExpr": "datum.value % 25 == 0 ? datum.label : ''", "tickSize": {"condition": {"test": "datum.value % 25 == 0", "value": 8}, "value": 4}, "gridDash": {"condition": {"test": "datum.value % 25 == 0", "value": []}, "value": [2, 3]}, "gridColor": {"condition": {"test": "datum.value % 25 == 0", "value": "#d4d4d4"}, "value": "#bdbdbd"}}},
            "y": {"field": "V", "type": "quantitative", "scale": {"domain": [2.2, 4.2], "nice": false, "zero": false}, "axis": {"title": "Vₜₕ [V]", "values": [2.2,2.3,2.4,2.5,2.6,2.7,2.8,2.9,3.0,3.1,3.2,3.3,3.4,3.5,3.6,3.7,3.8,3.9,4.0,4.1,4.2], "labelExpr": "round(datum.value * 10) % 2 == 0 ? format(datum.value, '.1~f') : ''", "tickSize": {"condition": {"test": "round(datum.value * 10) % 2 == 0", "value": 9}, "value": 5}, "gridDash": {"condition": {"test": "round(datum.value * 10) % 2 == 0", "value": []}, "value": [2, 3]}, "gridColor": {"condition": {"test": "round(datum.value * 10) % 2 == 0", "value": "#d4d4d4"}, "value": "#bdbdbd"}}},
            "shape": {"field": "k", "title": "Down-sweep (Vth,down)", "scale": {"domain": ["15 V to 0 V","15 V to -4 V","15 V to -7 V","15 V to -15 V"], "range": ["M-1,-1L1,-1L1,1L-1,1Z","M-1,-1L1,-1L1,1L-1,1Z","M-1,-1L1,-1L1,1L-1,1Z M0,-1L0,1 M-1,0L1,0","M-1,-1L1,-1L1,1L-1,1Z M-1,-1L1,1 M-1,1L1,-1"]},
              "legend": {"orient": "none", "legendX": 277, "legendY": 1, "symbolSize": 144, "symbolOffset": 10, "labelOffset": 22}},
            "fill": {"field": "k", "title": "Down-sweep (Vth,down)", "scale": {"domain": ["15 V to 0 V","15 V to -4 V","15 V to -7 V","15 V to -15 V"], "range": ["black","white","white","#e8e8e8"]},
              "legend": {"orient": "none", "legendX": 277, "legendY": 1, "symbolSize": 144, "symbolOffset": 10, "labelOffset": 22}},
            "stroke": {"field": "k", "title": "Down-sweep (Vth,down)", "scale": {"domain": ["15 V to 0 V","15 V to -4 V","15 V to -7 V","15 V to -15 V"], "range": ["black","black","black","black"]},
              "legend": {"orient": "none", "legendX": 277, "legendY": 1, "symbolSize": 144, "symbolOffset": 10, "labelOffset": 22}}}},
        {"data": {"name": "anchor"}, "mark": {"type": "point", "shape": "M0,-1C0.232,-1,0.42,-0.552,0.42,0C0.42,0.552,0.232,1,0,1C-0.232,1,-0.42,0.552,-0.42,0C-0.42,-0.552,-0.232,-1,0,-1Z", "size": 2704, "filled": false, "stroke": "#0000ff", "strokeWidth": 2.5, "strokeDash": [5, 4], "opacity": 1},
          "encoding": {
            "x": {"datum": 89.5, "type": "quantitative", "scale": {"domain": [12.5, 162.5], "nice": false, "zero": false}, "axis": {"title": "Temperature [°C]", "values": [12.5,25,37.5,50,62.5,75,87.5,100,112.5,125,137.5,150,162.5], "labelExpr": "datum.value % 25 == 0 ? datum.label : ''", "tickSize": {"condition": {"test": "datum.value % 25 == 0", "value": 8}, "value": 4}, "gridDash": {"condition": {"test": "datum.value % 25 == 0", "value": []}, "value": [2, 3]}, "gridColor": {"condition": {"test": "datum.value % 25 == 0", "value": "#d4d4d4"}, "value": "#bdbdbd"}}},
            "y": {"datum": 2.616, "type": "quantitative", "scale": {"domain": [2.2, 4.2], "nice": false, "zero": false}, "axis": {"title": "Vₜₕ [V]", "values": [2.2,2.3,2.4,2.5,2.6,2.7,2.8,2.9,3.0,3.1,3.2,3.3,3.4,3.5,3.6,3.7,3.8,3.9,4.0,4.1,4.2], "labelExpr": "round(datum.value * 10) % 2 == 0 ? format(datum.value, '.1~f') : ''", "tickSize": {"condition": {"test": "round(datum.value * 10) % 2 == 0", "value": 9}, "value": 5}, "gridDash": {"condition": {"test": "round(datum.value * 10) % 2 == 0", "value": []}, "value": [2, 3]}, "gridColor": {"condition": {"test": "round(datum.value * 10) % 2 == 0", "value": "#d4d4d4"}, "value": "#bdbdbd"}}}}},
        {"data": {"name": "anchor"}, "mark": {"type": "point", "shape": "M0,-1C0.359,-1,0.65,-0.552,0.65,0C0.65,0.552,0.359,1,0,1C-0.359,1,-0.65,0.552,-0.65,0C-0.65,-0.552,-0.359,-1,0,-1Z", "size": 1024, "filled": false, "stroke": "#0000ff", "strokeWidth": 2.5, "strokeDash": [5, 4], "opacity": 1},
          "encoding": {
            "x": {"datum": 139.3, "type": "quantitative", "scale": {"domain": [12.5, 162.5], "nice": false, "zero": false}, "axis": {"title": "Temperature [°C]", "values": [12.5,25,37.5,50,62.5,75,87.5,100,112.5,125,137.5,150,162.5], "labelExpr": "datum.value % 25 == 0 ? datum.label : ''", "tickSize": {"condition": {"test": "datum.value % 25 == 0", "value": 8}, "value": 4}, "gridDash": {"condition": {"test": "datum.value % 25 == 0", "value": []}, "value": [2, 3]}, "gridColor": {"condition": {"test": "datum.value % 25 == 0", "value": "#d4d4d4"}, "value": "#bdbdbd"}}},
            "y": {"datum": 2.653, "type": "quantitative", "scale": {"domain": [2.2, 4.2], "nice": false, "zero": false}, "axis": {"title": "Vₜₕ [V]", "values": [2.2,2.3,2.4,2.5,2.6,2.7,2.8,2.9,3.0,3.1,3.2,3.3,3.4,3.5,3.6,3.7,3.8,3.9,4.0,4.1,4.2], "labelExpr": "round(datum.value * 10) % 2 == 0 ? format(datum.value, '.1~f') : ''", "tickSize": {"condition": {"test": "round(datum.value * 10) % 2 == 0", "value": 9}, "value": 5}, "gridDash": {"condition": {"test": "round(datum.value * 10) % 2 == 0", "value": []}, "value": [2, 3]}, "gridColor": {"condition": {"test": "round(datum.value * 10) % 2 == 0", "value": "#d4d4d4"}, "value": "#bdbdbd"}}}}},
        {"data": {"name": "anchor"}, "mark": {"type": "point", "shape": "M-1,-0.306L1,-0.306L1,0.306L-1,0.306Z", "size": 12321, "filled": true, "fill": "white", "stroke": "#666", "strokeWidth": 1.5, "opacity": 1},
          "encoding": {
            "x": {"datum": 35.06, "type": "quantitative", "scale": {"domain": [12.5, 162.5], "nice": false, "zero": false}, "axis": {"title": "Temperature [°C]", "values": [12.5,25,37.5,50,62.5,75,87.5,100,112.5,125,137.5,150,162.5], "labelExpr": "datum.value % 25 == 0 ? datum.label : ''", "tickSize": {"condition": {"test": "datum.value % 25 == 0", "value": 8}, "value": 4}, "gridDash": {"condition": {"test": "datum.value % 25 == 0", "value": []}, "value": [2, 3]}, "gridColor": {"condition": {"test": "datum.value % 25 == 0", "value": "#d4d4d4"}, "value": "#bdbdbd"}}},
            "y": {"datum": 2.333, "type": "quantitative", "scale": {"domain": [2.2, 4.2], "nice": false, "zero": false}, "axis": {"title": "Vₜₕ [V]", "values": [2.2,2.3,2.4,2.5,2.6,2.7,2.8,2.9,3.0,3.1,3.2,3.3,3.4,3.5,3.6,3.7,3.8,3.9,4.0,4.1,4.2], "labelExpr": "round(datum.value * 10) % 2 == 0 ? format(datum.value, '.1~f') : ''", "tickSize": {"condition": {"test": "round(datum.value * 10) % 2 == 0", "value": 9}, "value": 5}, "gridDash": {"condition": {"test": "round(datum.value * 10) % 2 == 0", "value": []}, "value": [2, 3]}, "gridColor": {"condition": {"test": "round(datum.value * 10) % 2 == 0", "value": "#d4d4d4"}, "value": "#bdbdbd"}}}}},
        {"data": {"name": "anchor"}, "mark": {"type": "text", "text": "V", "fontStyle": "italic", "fontSize": 24, "align": "left", "baseline": "alphabetic", "dx": -50, "dy": 3, "color": "black"},
          "encoding": {
            "x": {"datum": 35.06, "type": "quantitative", "scale": {"domain": [12.5, 162.5], "nice": false, "zero": false}, "axis": {"title": "Temperature [°C]", "values": [12.5,25,37.5,50,62.5,75,87.5,100,112.5,125,137.5,150,162.5], "labelExpr": "datum.value % 25 == 0 ? datum.label : ''", "tickSize": {"condition": {"test": "datum.value % 25 == 0", "value": 8}, "value": 4}, "gridDash": {"condition": {"test": "datum.value % 25 == 0", "value": []}, "value": [2, 3]}, "gridColor": {"condition": {"test": "datum.value % 25 == 0", "value": "#d4d4d4"}, "value": "#bdbdbd"}}},
            "y": {"datum": 2.333, "type": "quantitative", "scale": {"domain": [2.2, 4.2], "nice": false, "zero": false}, "axis": {"title": "Vₜₕ [V]", "values": [2.2,2.3,2.4,2.5,2.6,2.7,2.8,2.9,3.0,3.1,3.2,3.3,3.4,3.5,3.6,3.7,3.8,3.9,4.0,4.1,4.2], "labelExpr": "round(datum.value * 10) % 2 == 0 ? format(datum.value, '.1~f') : ''", "tickSize": {"condition": {"test": "round(datum.value * 10) % 2 == 0", "value": 9}, "value": 5}, "gridDash": {"condition": {"test": "round(datum.value * 10) % 2 == 0", "value": []}, "value": [2, 3]}, "gridColor": {"condition": {"test": "round(datum.value * 10) % 2 == 0", "value": "#d4d4d4"}, "value": "#bdbdbd"}}}}},
        {"data": {"name": "anchor"}, "mark": {"type": "text", "text": "th", "fontSize": 15, "align": "left", "baseline": "alphabetic", "dx": -36, "dy": 9, "color": "black"},
          "encoding": {
            "x": {"datum": 35.06, "type": "quantitative", "scale": {"domain": [12.5, 162.5], "nice": false, "zero": false}, "axis": {"title": "Temperature [°C]", "values": [12.5,25,37.5,50,62.5,75,87.5,100,112.5,125,137.5,150,162.5], "labelExpr": "datum.value % 25 == 0 ? datum.label : ''", "tickSize": {"condition": {"test": "datum.value % 25 == 0", "value": 8}, "value": 4}, "gridDash": {"condition": {"test": "datum.value % 25 == 0", "value": []}, "value": [2, 3]}, "gridColor": {"condition": {"test": "datum.value % 25 == 0", "value": "#d4d4d4"}, "value": "#bdbdbd"}}},
            "y": {"datum": 2.333, "type": "quantitative", "scale": {"domain": [2.2, 4.2], "nice": false, "zero": false}, "axis": {"title": "Vₜₕ [V]", "values": [2.2,2.3,2.4,2.5,2.6,2.7,2.8,2.9,3.0,3.1,3.2,3.3,3.4,3.5,3.6,3.7,3.8,3.9,4.0,4.1,4.2], "labelExpr": "round(datum.value * 10) % 2 == 0 ? format(datum.value, '.1~f') : ''", "tickSize": {"condition": {"test": "round(datum.value * 10) % 2 == 0", "value": 9}, "value": 5}, "gridDash": {"condition": {"test": "round(datum.value * 10) % 2 == 0", "value": []}, "value": [2, 3]}, "gridColor": {"condition": {"test": "round(datum.value * 10) % 2 == 0", "value": "#d4d4d4"}, "value": "#bdbdbd"}}}}},
        {"data": {"name": "anchor"}, "mark": {"type": "text", "text": "at 5 mA", "fontSize": 21, "align": "left", "baseline": "alphabetic", "dx": -19, "dy": 3, "color": "black"},
          "encoding": {
            "x": {"datum": 35.06, "type": "quantitative", "scale": {"domain": [12.5, 162.5], "nice": false, "zero": false}, "axis": {"title": "Temperature [°C]", "values": [12.5,25,37.5,50,62.5,75,87.5,100,112.5,125,137.5,150,162.5], "labelExpr": "datum.value % 25 == 0 ? datum.label : ''", "tickSize": {"condition": {"test": "datum.value % 25 == 0", "value": 8}, "value": 4}, "gridDash": {"condition": {"test": "datum.value % 25 == 0", "value": []}, "value": [2, 3]}, "gridColor": {"condition": {"test": "datum.value % 25 == 0", "value": "#d4d4d4"}, "value": "#bdbdbd"}}},
            "y": {"datum": 2.333, "type": "quantitative", "scale": {"domain": [2.2, 4.2], "nice": false, "zero": false}, "axis": {"title": "Vₜₕ [V]", "values": [2.2,2.3,2.4,2.5,2.6,2.7,2.8,2.9,3.0,3.1,3.2,3.3,3.4,3.5,3.6,3.7,3.8,3.9,4.0,4.1,4.2], "labelExpr": "round(datum.value * 10) % 2 == 0 ? format(datum.value, '.1~f') : ''", "tickSize": {"condition": {"test": "round(datum.value * 10) % 2 == 0", "value": 9}, "value": 5}, "gridDash": {"condition": {"test": "round(datum.value * 10) % 2 == 0", "value": []}, "value": [2, 3]}, "gridColor": {"condition": {"test": "round(datum.value * 10) % 2 == 0", "value": "#d4d4d4"}, "value": "#bdbdbd"}}}}},
        {"data": {"name": "anchor"}, "mark": {"type": "point", "shape": "M-1,-0.65L1,-0.65L1,0.65L-1,0.65Z", "size": 2916, "filled": true, "fill": "white", "stroke": "#666", "strokeWidth": 1.5, "opacity": 1},
          "encoding": {
            "x": {"datum": 88.86, "type": "quantitative", "scale": {"domain": [12.5, 162.5], "nice": false, "zero": false}, "axis": {"title": "Temperature [°C]", "values": [12.5,25,37.5,50,62.5,75,87.5,100,112.5,125,137.5,150,162.5], "labelExpr": "datum.value % 25 == 0 ? datum.label : ''", "tickSize": {"condition": {"test": "datum.value % 25 == 0", "value": 8}, "value": 4}, "gridDash": {"condition": {"test": "datum.value % 25 == 0", "value": []}, "value": [2, 3]}, "gridColor": {"condition": {"test": "datum.value % 25 == 0", "value": "#d4d4d4"}, "value": "#bdbdbd"}}},
            "y": {"datum": 2.384, "type": "quantitative", "scale": {"domain": [2.2, 4.2], "nice": false, "zero": false}, "axis": {"title": "Vₜₕ [V]", "values": [2.2,2.3,2.4,2.5,2.6,2.7,2.8,2.9,3.0,3.1,3.2,3.3,3.4,3.5,3.6,3.7,3.8,3.9,4.0,4.1,4.2], "labelExpr": "round(datum.value * 10) % 2 == 0 ? format(datum.value, '.1~f') : ''", "tickSize": {"condition": {"test": "round(datum.value * 10) % 2 == 0", "value": 9}, "value": 5}, "gridDash": {"condition": {"test": "round(datum.value * 10) % 2 == 0", "value": []}, "value": [2, 3]}, "gridColor": {"condition": {"test": "round(datum.value * 10) % 2 == 0", "value": "#d4d4d4"}, "value": "#bdbdbd"}}}}},
        {"data": {"name": "anchor"}, "mark": {"type": "text", "text": "V", "fontStyle": "italic", "fontSize": 22, "align": "left", "baseline": "alphabetic", "dx": -24, "dy": 5, "color": "#ff00ff"},
          "encoding": {
            "x": {"datum": 88.86, "type": "quantitative", "scale": {"domain": [12.5, 162.5], "nice": false, "zero": false}, "axis": {"title": "Temperature [°C]", "values": [12.5,25,37.5,50,62.5,75,87.5,100,112.5,125,137.5,150,162.5], "labelExpr": "datum.value % 25 == 0 ? datum.label : ''", "tickSize": {"condition": {"test": "datum.value % 25 == 0", "value": 8}, "value": 4}, "gridDash": {"condition": {"test": "datum.value % 25 == 0", "value": []}, "value": [2, 3]}, "gridColor": {"condition": {"test": "datum.value % 25 == 0", "value": "#d4d4d4"}, "value": "#bdbdbd"}}},
            "y": {"datum": 2.384, "type": "quantitative", "scale": {"domain": [2.2, 4.2], "nice": false, "zero": false}, "axis": {"title": "Vₜₕ [V]", "values": [2.2,2.3,2.4,2.5,2.6,2.7,2.8,2.9,3.0,3.1,3.2,3.3,3.4,3.5,3.6,3.7,3.8,3.9,4.0,4.1,4.2], "labelExpr": "round(datum.value * 10) % 2 == 0 ? format(datum.value, '.1~f') : ''", "tickSize": {"condition": {"test": "round(datum.value * 10) % 2 == 0", "value": 9}, "value": 5}, "gridDash": {"condition": {"test": "round(datum.value * 10) % 2 == 0", "value": []}, "value": [2, 3]}, "gridColor": {"condition": {"test": "round(datum.value * 10) % 2 == 0", "value": "#d4d4d4"}, "value": "#bdbdbd"}}}}},
        {"data": {"name": "anchor"}, "mark": {"type": "text", "text": "th,up", "fontSize": 15, "align": "left", "baseline": "alphabetic", "dx": -9, "dy": 12, "color": "#ff00ff"},
          "encoding": {
            "x": {"datum": 88.86, "type": "quantitative", "scale": {"domain": [12.5, 162.5], "nice": false, "zero": false}, "axis": {"title": "Temperature [°C]", "values": [12.5,25,37.5,50,62.5,75,87.5,100,112.5,125,137.5,150,162.5], "labelExpr": "datum.value % 25 == 0 ? datum.label : ''", "tickSize": {"condition": {"test": "datum.value % 25 == 0", "value": 8}, "value": 4}, "gridDash": {"condition": {"test": "datum.value % 25 == 0", "value": []}, "value": [2, 3]}, "gridColor": {"condition": {"test": "datum.value % 25 == 0", "value": "#d4d4d4"}, "value": "#bdbdbd"}}},
            "y": {"datum": 2.384, "type": "quantitative", "scale": {"domain": [2.2, 4.2], "nice": false, "zero": false}, "axis": {"title": "Vₜₕ [V]", "values": [2.2,2.3,2.4,2.5,2.6,2.7,2.8,2.9,3.0,3.1,3.2,3.3,3.4,3.5,3.6,3.7,3.8,3.9,4.0,4.1,4.2], "labelExpr": "round(datum.value * 10) % 2 == 0 ? format(datum.value, '.1~f') : ''", "tickSize": {"condition": {"test": "round(datum.value * 10) % 2 == 0", "value": 9}, "value": 5}, "gridDash": {"condition": {"test": "round(datum.value * 10) % 2 == 0", "value": []}, "value": [2, 3]}, "gridColor": {"condition": {"test": "round(datum.value * 10) % 2 == 0", "value": "#d4d4d4"}, "value": "#bdbdbd"}}}}},
        {"data": {"name": "anchor"}, "mark": {"type": "point", "shape": "M-1,-0.486L1,-0.486L1,0.486L-1,0.486Z", "size": 4900, "filled": true, "fill": "white", "stroke": "#666", "strokeWidth": 1.5, "opacity": 1},
          "encoding": {
            "x": {"datum": 142.5, "type": "quantitative", "scale": {"domain": [12.5, 162.5], "nice": false, "zero": false}, "axis": {"title": "Temperature [°C]", "values": [12.5,25,37.5,50,62.5,75,87.5,100,112.5,125,137.5,150,162.5], "labelExpr": "datum.value % 25 == 0 ? datum.label : ''", "tickSize": {"condition": {"test": "datum.value % 25 == 0", "value": 8}, "value": 4}, "gridDash": {"condition": {"test": "datum.value % 25 == 0", "value": []}, "value": [2, 3]}, "gridColor": {"condition": {"test": "datum.value % 25 == 0", "value": "#d4d4d4"}, "value": "#bdbdbd"}}},
            "y": {"datum": 2.835, "type": "quantitative", "scale": {"domain": [2.2, 4.2], "nice": false, "zero": false}, "axis": {"title": "Vₜₕ [V]", "values": [2.2,2.3,2.4,2.5,2.6,2.7,2.8,2.9,3.0,3.1,3.2,3.3,3.4,3.5,3.6,3.7,3.8,3.9,4.0,4.1,4.2], "labelExpr": "round(datum.value * 10) % 2 == 0 ? format(datum.value, '.1~f') : ''", "tickSize": {"condition": {"test": "round(datum.value * 10) % 2 == 0", "value": 9}, "value": 5}, "gridDash": {"condition": {"test": "round(datum.value * 10) % 2 == 0", "value": []}, "value": [2, 3]}, "gridColor": {"condition": {"test": "round(datum.value * 10) % 2 == 0", "value": "#d4d4d4"}, "value": "#bdbdbd"}}}}},
        {"data": {"name": "anchor"}, "mark": {"type": "text", "text": "V", "fontStyle": "italic", "fontSize": 22, "align": "left", "baseline": "alphabetic", "dx": -30, "dy": 4, "color": "black"},
          "encoding": {
            "x": {"datum": 142.5, "type": "quantitative", "scale": {"domain": [12.5, 162.5], "nice": false, "zero": false}, "axis": {"title": "Temperature [°C]", "values": [12.5,25,37.5,50,62.5,75,87.5,100,112.5,125,137.5,150,162.5], "labelExpr": "datum.value % 25 == 0 ? datum.label : ''", "tickSize": {"condition": {"test": "datum.value % 25 == 0", "value": 8}, "value": 4}, "gridDash": {"condition": {"test": "datum.value % 25 == 0", "value": []}, "value": [2, 3]}, "gridColor": {"condition": {"test": "datum.value % 25 == 0", "value": "#d4d4d4"}, "value": "#bdbdbd"}}},
            "y": {"datum": 2.835, "type": "quantitative", "scale": {"domain": [2.2, 4.2], "nice": false, "zero": false}, "axis": {"title": "Vₜₕ [V]", "values": [2.2,2.3,2.4,2.5,2.6,2.7,2.8,2.9,3.0,3.1,3.2,3.3,3.4,3.5,3.6,3.7,3.8,3.9,4.0,4.1,4.2], "labelExpr": "round(datum.value * 10) % 2 == 0 ? format(datum.value, '.1~f') : ''", "tickSize": {"condition": {"test": "round(datum.value * 10) % 2 == 0", "value": 9}, "value": 5}, "gridDash": {"condition": {"test": "round(datum.value * 10) % 2 == 0", "value": []}, "value": [2, 3]}, "gridColor": {"condition": {"test": "round(datum.value * 10) % 2 == 0", "value": "#d4d4d4"}, "value": "#bdbdbd"}}}}},
        {"data": {"name": "anchor"}, "mark": {"type": "text", "text": "th,down", "fontSize": 14, "align": "left", "baseline": "alphabetic", "dx": -17, "dy": 10, "color": "black"},
          "encoding": {
            "x": {"datum": 142.5, "type": "quantitative", "scale": {"domain": [12.5, 162.5], "nice": false, "zero": false}, "axis": {"title": "Temperature [°C]", "values": [12.5,25,37.5,50,62.5,75,87.5,100,112.5,125,137.5,150,162.5], "labelExpr": "datum.value % 25 == 0 ? datum.label : ''", "tickSize": {"condition": {"test": "datum.value % 25 == 0", "value": 8}, "value": 4}, "gridDash": {"condition": {"test": "datum.value % 25 == 0", "value": []}, "value": [2, 3]}, "gridColor": {"condition": {"test": "datum.value % 25 == 0", "value": "#d4d4d4"}, "value": "#bdbdbd"}}},
            "y": {"datum": 2.835, "type": "quantitative", "scale": {"domain": [2.2, 4.2], "nice": false, "zero": false}, "axis": {"title": "Vₜₕ [V]", "values": [2.2,2.3,2.4,2.5,2.6,2.7,2.8,2.9,3.0,3.1,3.2,3.3,3.4,3.5,3.6,3.7,3.8,3.9,4.0,4.1,4.2], "labelExpr": "round(datum.value * 10) % 2 == 0 ? format(datum.value, '.1~f') : ''", "tickSize": {"condition": {"test": "round(datum.value * 10) % 2 == 0", "value": 9}, "value": 5}, "gridDash": {"condition": {"test": "round(datum.value * 10) % 2 == 0", "value": []}, "value": [2, 3]}, "gridColor": {"condition": {"test": "round(datum.value * 10) % 2 == 0", "value": "#d4d4d4"}, "value": "#bdbdbd"}}}}}
      ],
      "resolve": {
        "scale": {"strokeDash": "independent", "strokeWidth": "independent", "shape": "independent", "fill": "independent", "stroke": "independent"},
        "legend": {"shape": "independent", "fill": "independent", "stroke": "independent"}
      }
    }
  ]
}
